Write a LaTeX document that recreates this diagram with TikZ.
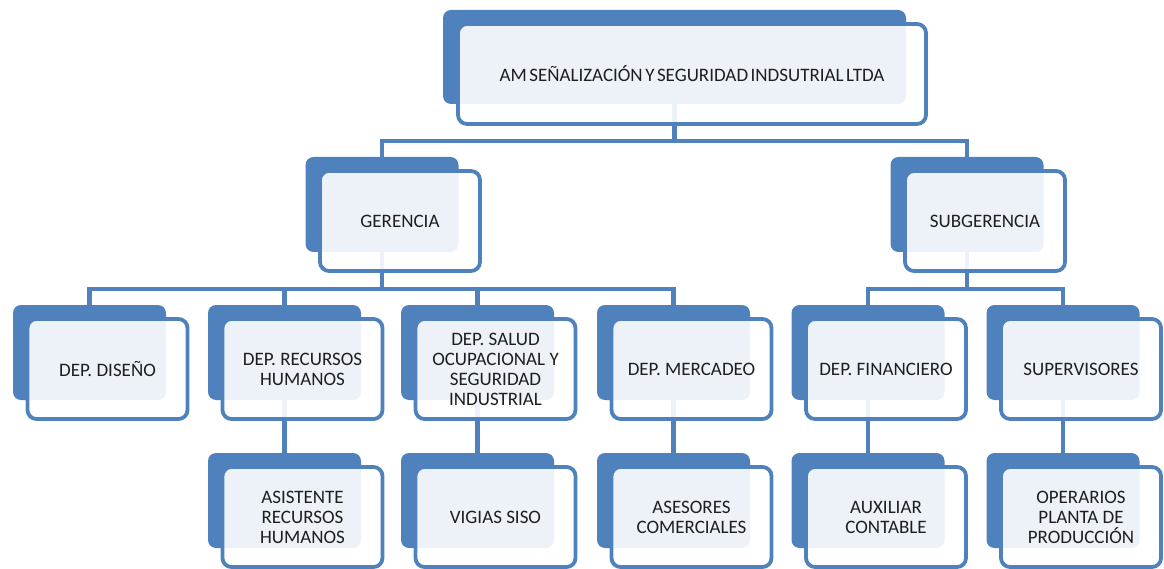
\documentclass[tikz,border=0pt]{standalone}
\usepackage{fontspec}
\setmainfont{Carlito}
\usetikzlibrary{positioning,calc}
\definecolor{orgblue}{RGB}{79,129,189}
\definecolor{orgtext}{RGB}{30,30,30}
\tikzset{
  backbox/.style={fill=orgblue,draw=none,rounded corners=8pt,minimum width=153pt,minimum height=95pt,inner sep=0pt},
  frontbox/.style={draw=orgblue,line width=3.8pt,fill=white,fill opacity=0.9,text opacity=1,text=orgtext,
    rounded corners=9pt,minimum width=160pt,minimum height=100pt,inner sep=0pt,align=center,
    font=\fontsize{19}{20}\selectfont},
  conn/.style={draw=orgblue,line width=4.5pt}
}

\begin{document}
\begin{tikzpicture}[x=1pt,y=-1pt]
\useasboundingbox (0,0) rectangle (1164,569);

% back boxes
\node[backbox,minimum width=463pt,minimum height=94pt] (topB) at (674.5,57) {};
\node[backbox] (gerB) at (382,204.5) {};
\node[backbox] (subB) at (967,204.5) {};
\node[backbox] (disB) at (89.5,352.5) {};
\node[backbox] (rrhhB) at (284.5,352.5) {};
\node[backbox] (saludB) at (477.5,352.5) {};
\node[backbox] (mercB) at (673.5,352.5) {};
\node[backbox] (finB) at (868,352.5) {};
\node[backbox] (supB) at (1063,352.5) {};
\node[backbox] (asisB) at (284.5,500.5) {};
\node[backbox] (vigB) at (477.5,500.5) {};
\node[backbox] (asesB) at (673.5,500.5) {};
\node[backbox] (auxB) at (868,500.5) {};
\node[backbox] (operB) at (1063,500.5) {};

% connectors
\draw[conn] (topB.south) -- ++(0,37) -| (gerB.north);
\draw[conn] (topB.south) -- ++(0,37) -| (subB.north);
\foreach \d in {disB,rrhhB,saludB,mercB}
  \draw[conn] (gerB.south) -- ++(0,37) -| (\d.north);
\foreach \d in {finB,supB}
  \draw[conn] (subB.south) -- ++(0,37) -| (\d.north);
\draw[conn] (rrhhB.south) -- (asisB.north);
\draw[conn] (saludB.south) -- (vigB.north);
\draw[conn] (mercB.south) -- (asesB.north);
\draw[conn] (finB.south) -- (auxB.north);
\draw[conn] (supB.south) -- (operB.north);

% front boxes
\node[frontbox,minimum width=468pt] (top) at ($(topB)+(17.5,17)$) {\spaceskip=2.5pt\relax AM SEÑALIZACIÓN Y SEGURIDAD INDSUTRIAL LTDA};
\node[frontbox] (ger) at ($(gerB)+(18,16.5)$) {GERENCIA};
\node[frontbox] (sub) at ($(subB)+(18,16.5)$) {SUBGERENCIA};
\node[frontbox] (dis) at ($(disB)+(18,16.5)$) {DEP. DISEÑO};
\node[frontbox] (rrhh) at ($(rrhhB)+(18,16.5)$) {DEP. RECURSOS\\HUMANOS};
\node[frontbox] (salud) at ($(saludB)+(18,16.5)$) {DEP. SALUD\\OCUPACIONAL Y\\SEGURIDAD\\INDUSTRIAL};
\node[frontbox] (merc) at ($(mercB)+(18,16.5)$) {DEP. MERCADEO};
\node[frontbox] (fin) at ($(finB)+(18,16.5)$) {DEP. FINANCIERO};
\node[frontbox] (sup) at ($(supB)+(18,16.5)$) {SUPERVISORES};
\node[frontbox] (asis) at ($(asisB)+(18,16.5)$) {ASISTENTE\\RECURSOS\\HUMANOS};
\node[frontbox] (vig) at ($(vigB)+(18,16.5)$) {VIGIAS SISO};
\node[frontbox] (ases) at ($(asesB)+(18,16.5)$) {ASESORES\\COMERCIALES};
\node[frontbox] (aux) at ($(auxB)+(18,16.5)$) {AUXILIAR\\CONTABLE};
\node[frontbox] (oper) at ($(operB)+(18,16.5)$) {OPERARIOS\\PLANTA DE\\PRODUCCIÓN};

\end{tikzpicture}
\end{document}
